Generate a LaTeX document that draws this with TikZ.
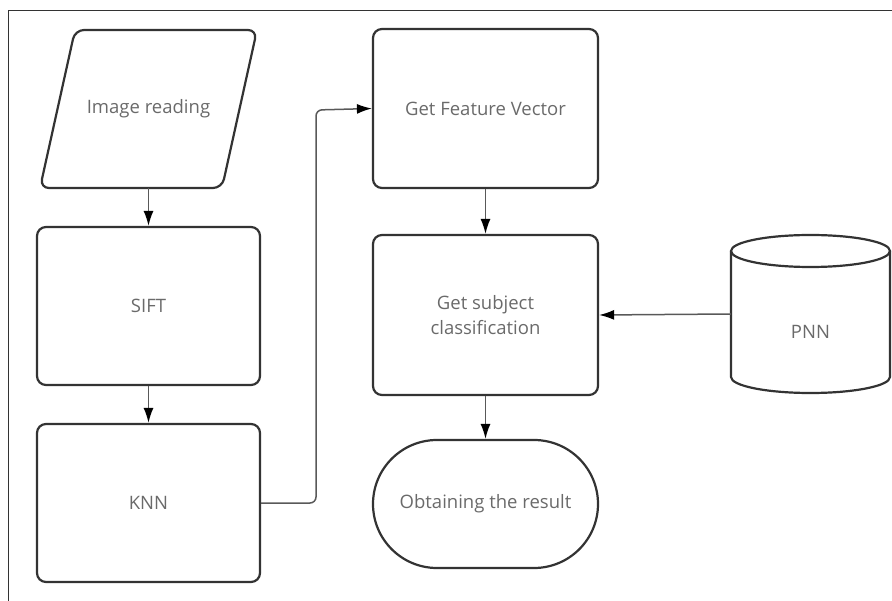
\documentclass[tikz,border=0pt]{standalone}
\usepackage{fontspec}
\setmainfont{Open Sans}
\usetikzlibrary{arrows.meta}
\definecolor{edge}{HTML}{333333}
\definecolor{wire}{HTML}{595959}
\definecolor{label}{HTML}{6a6a6a}
\tikzset{
  proc/.style={draw=edge, line width=2.2pt, rounded corners=9pt, minimum width=223pt,
    minimum height=158pt, inner sep=0pt, align=center, text=label,
    font=\fontsize{18.5}{25}\selectfont},
  txt/.style={inner sep=0pt, align=center, text=label, font=\fontsize{18.5}{25}\selectfont},
  outline/.style={draw=edge, line width=2.2pt},
  flow/.style={draw=wire, line width=1.5pt,
    -{Latex[length=15pt,width=10pt,color=black]}},
}
\begin{document}
\begin{tikzpicture}[x=1pt,y=-1pt]
\useasboundingbox (0,0) rectangle (892,601);
% frame of the sheet
\draw[draw=edge, line width=1.4pt] (8.5,601) -- (8.5,10.5) -- (892,10.5);

% input parallelogram
\node[txt, minimum width=150pt, minimum height=158pt] (read) at (148.5,109) {Image reading};
\draw[outline, rounded corners=9pt]
  (75,30) -- (257,30) -- (222,188) -- (40,188) -- cycle;

% left column
\node[proc] (sift) at (148.5,306) {SIFT};
\node[proc] (knn) at (148.5,503) {KNN};

% middle column
\node[proc, minimum width=225pt, minimum height=159pt] (feat) at (485.5,108.5) {Get Feature Vector};
\node[proc, minimum width=225pt, minimum height=160pt] (cls) at (485.5,315) {Get subject\\classification};
\node[proc, minimum width=225pt, minimum height=128pt, rounded corners=64pt] (res) at (485.5,504) {Obtaining the result};

% database cylinder
\node[minimum width=159pt, minimum height=158pt, inner sep=0pt] (db) at (810.5,314) {};
\draw[outline]
  (731,251) -- (731,377)
  arc[start angle=180, end angle=360, x radius=79.5pt, y radius=16pt]
  -- (890,251);
\draw[outline] (810.5,251) ellipse[x radius=79.5pt, y radius=16pt];
\node[txt] (pnn) at (810.5,332) {PNN};

% connectors
\draw[flow] (read.south) -- (sift.north);
\draw[flow] (sift.south) -- (knn.north);
\draw[flow, rounded corners=6pt] (knn.east) -| (316,110) -- (feat.west);
\draw[flow] (feat.south) -- (cls.north);
\draw[flow] (cls.south) -- (res.north);
\draw[flow] (db.west) -- (cls.east);
\end{tikzpicture}
\end{document}
